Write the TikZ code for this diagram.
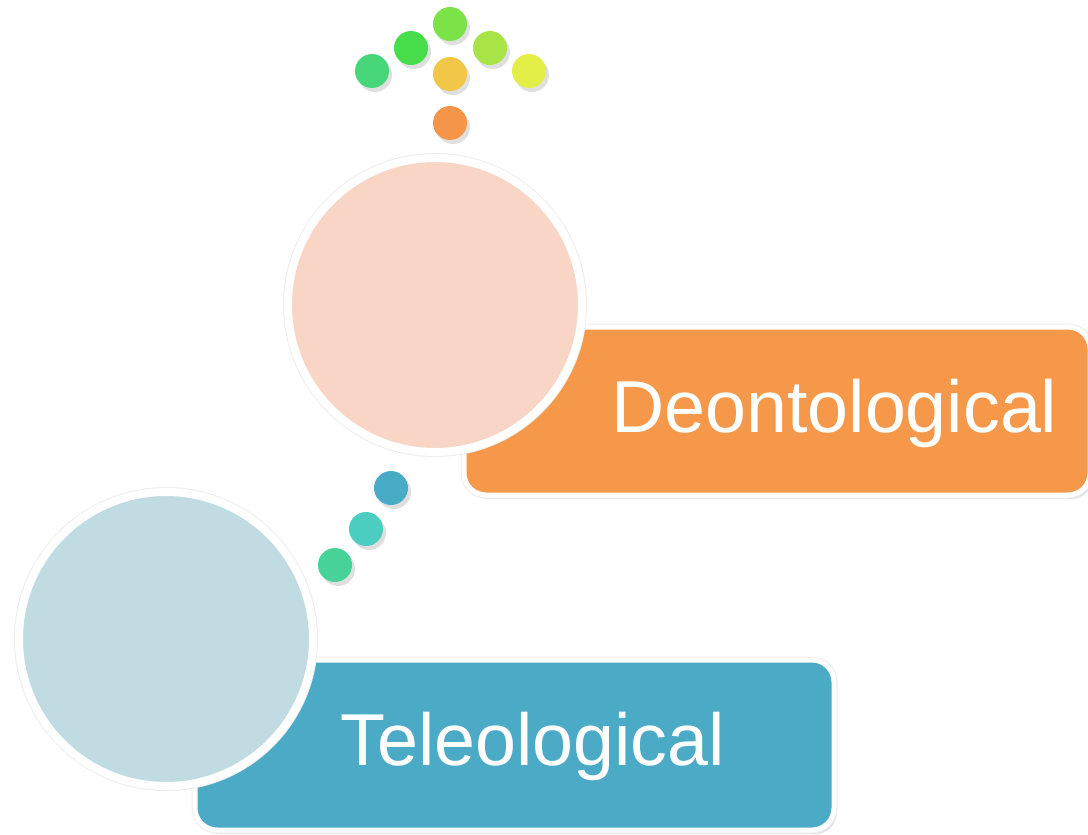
\documentclass[tikz,border=0pt]{standalone}
\usepackage{fontspec}
\setmainfont{Liberation Sans}
\usetikzlibrary{shadows}

\definecolor{deonfill}{HTML}{F8D5C5}
\definecolor{telefill}{HTML}{C1DBE3}
\definecolor{deonbox}{HTML}{F5984A}
\definecolor{telebox}{HTML}{4BABC6}
\definecolor{dotA}{HTML}{47D67A}
\definecolor{dotB}{HTML}{47DD4B}
\definecolor{dotC}{HTML}{7BE247}
\definecolor{dotD}{HTML}{A8E445}
\definecolor{dotE}{HTML}{E3EE46}
\definecolor{dotF}{HTML}{F2C646}
\definecolor{dotG}{HTML}{F5954A}
\definecolor{dotH}{HTML}{4AABC6}
\definecolor{dotI}{HTML}{4BCDC0}
\definecolor{dotJ}{HTML}{47D398}

\tikzset{
  softshadow/.style={drop shadow={opacity=0.25,shadow xshift=1.5pt,shadow yshift=-2pt}},
  bigcircle/.style={circle,draw=white,line width=4pt,minimum size=147pt,inner sep=0pt,softshadow,
    preaction={draw=black!7,line width=5pt}},
  labelbox/.style={rectangle,rounded corners=11pt,draw=white,line width=2.5pt,inner sep=0pt,softshadow,
    preaction={draw=black!7,line width=3.5pt}},
  labeltext/.style={text=white,anchor=base west,inner sep=0pt,font=\fontsize{36.8}{40}\selectfont},
  dot/.style={circle,minimum size=17pt,inner sep=0pt,softshadow}
}

\begin{document}
\begin{tikzpicture}[x=0.5pt,y=-0.5pt]
        \useasboundingbox (0,0) rectangle (1088,835);
        % label boxes
        \node[labelbox,fill=deonbox,minimum width=313pt,minimum height=84pt] (deonbox) at (777,411) {};
        \node[labelbox,fill=telebox,minimum width=319.5pt,minimum height=85pt] (telebox) at (514.5,745) {};
        \node[labeltext] (deontext) at (611,432) {Deontological};
        \node[labeltext] (teletext) at (340,765) {Teleological};
        % circles
        \node[bigcircle,fill=deonfill] (deon) at (435,305) {};
        \node[bigcircle,fill=telefill] (tele) at (166,639) {};
        % dots above
        \node[dot,fill=dotA] (dotA) at (372,71) {};
        \node[dot,fill=dotB] (dotB) at (411,48) {};
        \node[dot,fill=dotC] (dotC) at (450,24) {};
        \node[dot,fill=dotD] (dotD) at (490,48) {};
        \node[dot,fill=dotE] (dotE) at (529,71) {};
        \node[dot,fill=dotF] (dotF) at (450,74) {};
        \node[dot,fill=dotG] (dotG) at (450,123) {};
        % dots between
        \node[dot,fill=dotH] (dotH) at (391,488) {};
        \node[dot,fill=dotI] (dotI) at (366,529) {};
        \node[dot,fill=dotJ] (dotJ) at (335,565) {};
\end{tikzpicture}
\end{document}
